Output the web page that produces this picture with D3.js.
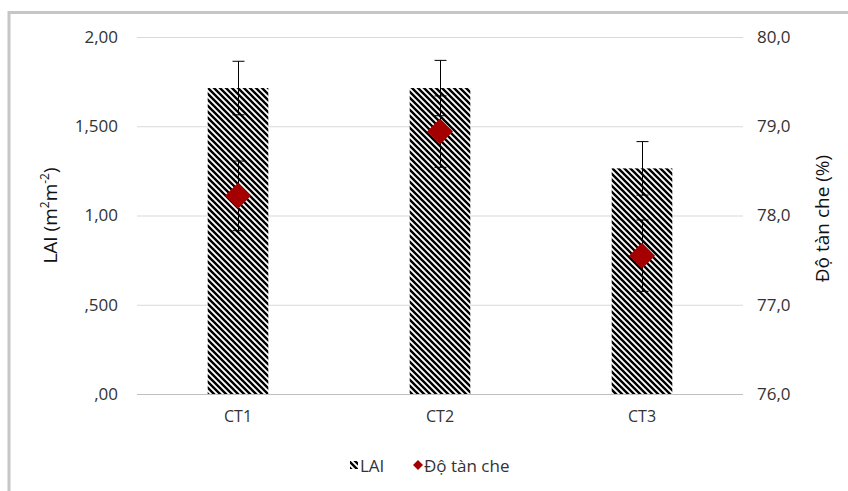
<!DOCTYPE html>
<html><head><meta charset="utf-8">
<script src="https://cdn.jsdelivr.net/npm/d3@7"></script>
<style>body{margin:0;background:#fff}svg{display:block}</style>
</head><body><svg id="c" width="848" height="491"></svg>
<script>
const categories = ["CT1", "CT2", "CT3"];
const laiValues = [1.714, 1.714, 1.264];
const laiErrors = [0.15, 0.155, 0.15];
const coverValues = [78.22, 78.94, 77.55];
const coverErrors = [0.39, 0.40, 0.40];
const leftTicks = [0, 0.5, 1.0, 1.5, 2.0];
const leftTickLabels = [",00", ",500", "1,00", "1,500", "2,00"];
const rightTicks = [76, 77, 78, 79, 80];
const rightTickLabels = ["76,0", "77,0", "78,0", "79,0", "80,0"];

const svg = d3.select("#c");
const W = 848, H = 491;
const m = {l: 137, r: 743, t: 37, b: 394};
const font = "'Open Sans', sans-serif";
const fs = 17;
const txt = "#333333";

// outer frame
svg.append("path").attr("d", `M9,${H} V12.5 H${W}`).attr("fill", "none").attr("stroke", "#c6c6c6").attr("stroke-width", 3);

const defs = svg.append("defs");
const pat = defs.append("pattern").attr("id", "hatch").attr("patternUnits", "userSpaceOnUse")
  .attr("width", 6).attr("height", 6);
pat.append("rect").attr("width", 6).attr("height", 6).attr("fill", "#fff");
pat.append("path").attr("d", "M-1.5,-1.5 L7.5,7.5 M-1.5,4.5 L1.5,7.5 M4.5,-1.5 L7.5,1.5")
  .attr("stroke", "#000").attr("stroke-width", 2.4);

const x = d3.scaleBand().domain(categories).range([m.l, m.r]).paddingInner(0.7).paddingOuter(0.35);
const yL = d3.scaleLinear().domain([0, 2]).range([m.b, m.t]);
const yR = d3.scaleLinear().domain([76, 80]).range([m.b, m.t]);

// gridlines
svg.append("g").selectAll("line").data(leftTicks).join("line")
  .attr("x1", m.l).attr("x2", m.r).attr("y1", d => yL(d) + 0.5).attr("y2", d => yL(d) + 0.5)
  .attr("stroke", d => d === 0 ? "#bfbfbf" : "#d9d9d9").attr("stroke-width", 1);

// left axis
const axL = svg.append("g").attr("transform", `translate(${m.l},0)`)
  .call(d3.axisLeft(yL).tickValues(leftTicks).tickSize(0).tickPadding(19).tickFormat((d, i) => leftTickLabels[i]));
axL.select(".domain").remove();
axL.attr("font-family", font).attr("font-size", fs);
axL.selectAll("text").attr("fill", txt);

// right axis
const axR = svg.append("g").attr("transform", `translate(${m.r},0)`)
  .call(d3.axisRight(yR).tickValues(rightTicks).tickSize(0).tickPadding(14).tickFormat((d, i) => rightTickLabels[i]));
axR.select(".domain").remove();
axR.attr("font-family", font).attr("font-size", fs);
axR.selectAll("text").attr("fill", txt);

// x axis
const axX = svg.append("g").attr("transform", `translate(0,${m.b})`)
  .call(d3.axisBottom(x).tickSize(0).tickPadding(17));
axX.select(".domain").remove();
axX.attr("font-family", font).attr("font-size", 16);
axX.selectAll("text").attr("fill", txt);

// bars
svg.append("g").selectAll("rect").data(categories).join("rect")
  .attr("x", d => x(d)).attr("width", x.bandwidth())
  .attr("y", (d, i) => yL(laiValues[i])).attr("height", (d, i) => m.b - yL(laiValues[i]))
  .attr("fill", "url(#hatch)");

// error bars helper
function errBars(vals, errs, scale) {
  const g = svg.append("g").attr("stroke", "#000").attr("stroke-width", 1);
  categories.forEach((c, i) => {
    const cx = Math.round(x(c) + x.bandwidth() / 2) + 0.5;
    const y1 = scale(vals[i] + errs[i]), y2 = scale(vals[i] - errs[i]);
    g.append("line").attr("x1", cx).attr("x2", cx).attr("y1", y1).attr("y2", y2);
    g.append("line").attr("x1", cx - 6).attr("x2", cx + 6).attr("y1", y1).attr("y2", y1);
    g.append("line").attr("x1", cx - 6).attr("x2", cx + 6).attr("y1", y2).attr("y2", y2);
  });
}
errBars(laiValues, laiErrors, yL);
errBars(coverValues, coverErrors, yR);

// diamonds
svg.append("g").selectAll("path").data(categories).join("path")
  .attr("transform", (d, i) => `translate(${x(d) + x.bandwidth() / 2},${yR(coverValues[i])})`)
  .attr("d", "M0,-13 L13,0 L0,13 L-13,0 Z").attr("fill", "#a50000");

// axis titles
svg.append("text").attr("transform", `translate(57,${(m.t + m.b) / 2}) rotate(-90)`)
  .attr("text-anchor", "middle").attr("font-size", 19).attr("fill", "#111").attr("font-family", font)
  .html('LAI (m<tspan baseline-shift="super" font-size="12">2</tspan>m<tspan baseline-shift="super" font-size="12">-2</tspan>)');
svg.append("text").attr("transform", `translate(829,${(m.t + m.b) / 2 + 3}) rotate(-90)`)
  .attr("text-anchor", "middle").attr("font-size", 19).attr("fill", "#111").attr("font-family", font)
  .text("Độ tàn che (%)");

// legend
const lg = svg.append("g").attr("transform", "translate(0,466)");
lg.append("rect").attr("x", 350).attr("y", -5).attr("width", 8).attr("height", 8).attr("fill", "url(#hatch)");
lg.append("text").attr("x", 360).attr("y", 6).attr("font-size", 17).attr("fill", txt).attr("font-family", font).text("LAI");
lg.append("path").attr("transform", "translate(418,-1)").attr("d", "M0,-5 L5,0 L0,5 L-5,0 Z").attr("fill", "#a50000");
lg.append("text").attr("x", 424).attr("y", 6).attr("font-size", 17).attr("fill", txt).attr("font-family", font).text("Độ tàn che");
</script></body></html>
